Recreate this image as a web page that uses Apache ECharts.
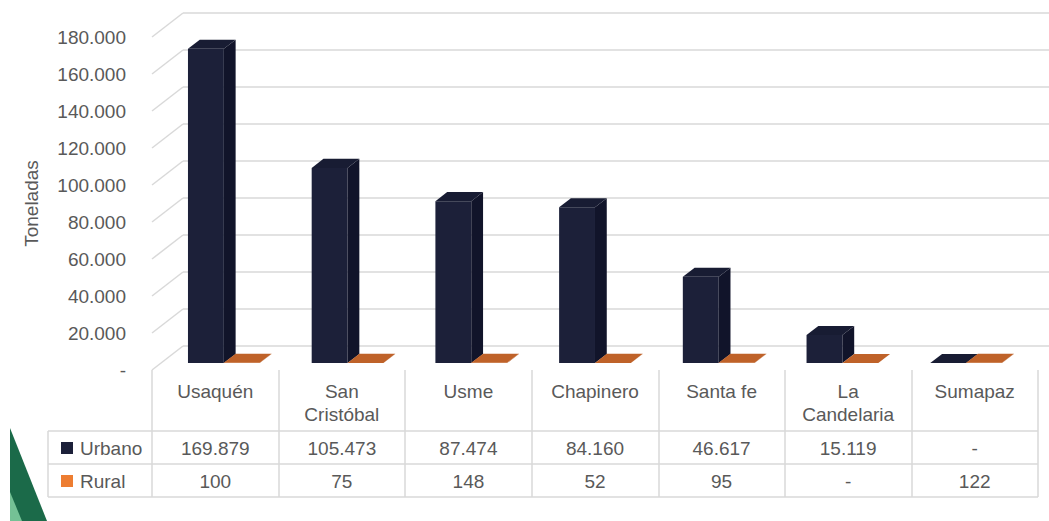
<!DOCTYPE html>
<html>
<head>
<meta charset="utf-8">
<script src="https://cdn.jsdelivr.net/npm/echarts@6/dist/echarts.min.js"></script>
<style>
html,body{margin:0;padding:0;background:#fff;}
#chart{width:1049px;height:521px;}
</style>
</head>
<body>
<div id="chart"></div>
<script>
// ---- data ----
const categories = ['Usaquén', 'San\nCristóbal', 'Usme', 'Chapinero', 'Santa fe', 'La\nCandelaria', 'Sumapaz'];
const urbano = [169879, 105473, 87474, 84160, 46617, 15119, 0];
const rural = [100, 75, 148, 52, 95, 0, 122];
const yTicks = [0, 20000, 40000, 60000, 80000, 100000, 120000, 140000, 160000, 180000];
const seriesNames = ['Urbano', 'Rural'];

// ---- helpers ----
const fmt = v => v === 0 ? '-' : String(v).replace(/\B(?=(\d{3})+(?!\d))/g, '.');
const FONT = "'Liberation Sans', Arial, sans-serif";
const TXT = '#595959';
const LINE = '#d9d9d9';
const DX = -31, DY = 24;        // offset of the front plane from the back wall
const FF = 0.71, FB = 0.33;     // depth fractions of bar front / back faces
const shift = (p, f) => [p[0] + DX * f, p[1] + DY * f];

const palettes = [
  { front: '#1c2039', side: '#11142a', top: '#181c33' },
  { front: '#d06a2c', side: '#a8521f', top: '#bf6229' }
];

function bar3d(s) {
  return function (params, api) {
    const i = api.value(0), v = api.value(1);
    const c0 = api.coord([i, 0]);
    const c1 = api.coord([i, v]);
    const bw = api.size([1, 0])[0] * 0.29;
    const xL = c0[0] + 1 + (s - 1) * bw, xR = xL + bw;
    const yT = c1[1], yB = c0[1];
    const pal = palettes[s];
    const front = [[xL, yT], [xR, yT], [xR, yB], [xL, yB]].map(p => shift(p, FF));
    const side = [shift([xR, yT], FF), shift([xR, yT], FB), shift([xR, yB], FB), shift([xR, yB], FF)];
    const top = [shift([xL, yT], FF), shift([xR, yT], FF), shift([xR, yT], FB), shift([xL, yT], FB)];
    return {
      type: 'group',
      children: [
        { type: 'polygon', shape: { points: front }, style: { fill: pal.front } },
        { type: 'polygon', shape: { points: side }, style: { fill: pal.side } },
        { type: 'polygon', shape: { points: top }, style: { fill: pal.top } }
      ]
    };
  };
}

const chart = echarts.init(document.getElementById('chart'), null, { renderer: 'svg' });

const option = {
  backgroundColor: '#fff',
  animation: false,
  textStyle: { fontFamily: FONT },
  grid: [
    { left: 183, top: 13, width: 886, height: 333 },   // back wall
    { left: 152, top: 37, width: 886, height: 333 },   // front plane (labels)
    { left: 152, top: 370, width: 886, height: 127 }   // data table
  ],
  legend: {
    data: seriesNames,
    orient: 'vertical',
    left: 56,
    top: 432,
    icon: 'rect',
    itemWidth: 12,
    itemHeight: 12,
    itemGap: 11,
    selectedMode: false,
    textStyle: { fontFamily: FONT, fontSize: 19, color: TXT, lineHeight: 22, padding: [0, 0, 0, 2] }
  },
  xAxis: [
    { gridIndex: 0, type: 'category', data: categories, show: false },
    {
      gridIndex: 2, type: 'category', data: categories, position: 'top',
      axisLine: { show: false }, axisTick: { show: false },
      axisLabel: { inside: true, interval: 0, margin: 10, fontFamily: FONT, fontSize: 19, color: TXT, lineHeight: 23, verticalAlign: 'top', align: 'center' },
      splitLine: { show: true, interval: 0, lineStyle: { color: LINE, width: 1.5 } }
    },
    {
      gridIndex: 2, type: 'category', data: urbano.map(fmt), position: 'top', offset: -61,
      axisLine: { show: false }, axisTick: { show: false }, splitLine: { show: false },
      axisLabel: { inside: true, interval: 0, margin: 17, fontFamily: FONT, fontSize: 19, color: TXT, verticalAlign: 'middle' }
    },
    {
      gridIndex: 2, type: 'category', data: rural.map(fmt), position: 'top', offset: -94,
      axisLine: { show: false }, axisTick: { show: false }, splitLine: { show: false },
      axisLabel: { inside: true, interval: 0, margin: 17, fontFamily: FONT, fontSize: 19, color: TXT, verticalAlign: 'middle' }
    },
    { gridIndex: 1, type: 'category', data: categories, show: false }
  ],
  yAxis: [
    {
      gridIndex: 0, type: 'value', min: 0, max: 180000, interval: 20000,
      axisLabel: { show: false }, axisLine: { show: false }, axisTick: { show: false },
      splitLine: { show: true, lineStyle: { color: LINE, width: 1.5 } }
    },
    {
      gridIndex: 1, type: 'value', min: 0, max: 180000, interval: 20000,
      name: 'Toneladas', nameLocation: 'middle', nameGap: 111, nameRotate: 90,
      nameTextStyle: { fontFamily: FONT, fontSize: 19, color: TXT },
      axisLine: { show: false }, axisTick: { show: false }, splitLine: { show: false },
      axisLabel: { margin: 26, fontFamily: FONT, fontSize: 19, color: TXT, formatter: v => fmt(v) }
    },
    { gridIndex: 2, type: 'value', min: 0, max: 1, show: false }
  ],
  graphic: [
    { type: 'polygon', shape: { points: [[10, 428], [47, 521], [10, 521]] }, style: { fill: '#1b6a49' }, silent: true },
    { type: 'polygon', shape: { points: [[10, 492], [22, 521], [10, 521]] }, style: { fill: '#74c195' }, silent: true },
    { type: 'line', shape: { x1: 48, y1: 431, x2: 1038, y2: 431 }, style: { stroke: LINE, lineWidth: 1.5 }, silent: true },
    { type: 'line', shape: { x1: 48, y1: 464, x2: 1038, y2: 464 }, style: { stroke: LINE, lineWidth: 1.5 }, silent: true },
    { type: 'line', shape: { x1: 48, y1: 497, x2: 1038, y2: 497 }, style: { stroke: LINE, lineWidth: 1.5 }, silent: true },
    { type: 'line', shape: { x1: 48, y1: 431, x2: 48, y2: 497 }, style: { stroke: LINE, lineWidth: 1.5 }, silent: true }
  ],
  series: [
    {
      type: 'custom', name: 'sidewall', xAxisIndex: 0, yAxisIndex: 0, silent: true, z: 1,
      data: yTicks.map(v => [0, v]),
      encode: { x: 0, y: 1 },
      renderItem: function (params, api) {
        const y = api.coord([0, api.value(1)])[1];
        const x = params.coordSys.x;
        const p = shift([x, y], 1);
        return { type: 'line', shape: { x1: x, y1: y, x2: p[0], y2: p[1] }, style: { stroke: LINE, lineWidth: 1.5 } };
      }
    },
    {
      type: 'custom', name: 'Urbano', xAxisIndex: 0, yAxisIndex: 0, z: 3,
      itemStyle: { color: '#1c2039' },
      data: urbano.map((v, i) => [i, v]),
      encode: { x: 0, y: 1 },
      renderItem: bar3d(0)
    },
    {
      type: 'custom', name: 'Rural', xAxisIndex: 0, yAxisIndex: 0, z: 4,
      itemStyle: { color: '#ed7d31' },
      data: rural.map((v, i) => [i, v]),
      encode: { x: 0, y: 1 },
      renderItem: bar3d(1)
    }
  ]
};
chart.setOption(option);
</script>
</body>
</html>
